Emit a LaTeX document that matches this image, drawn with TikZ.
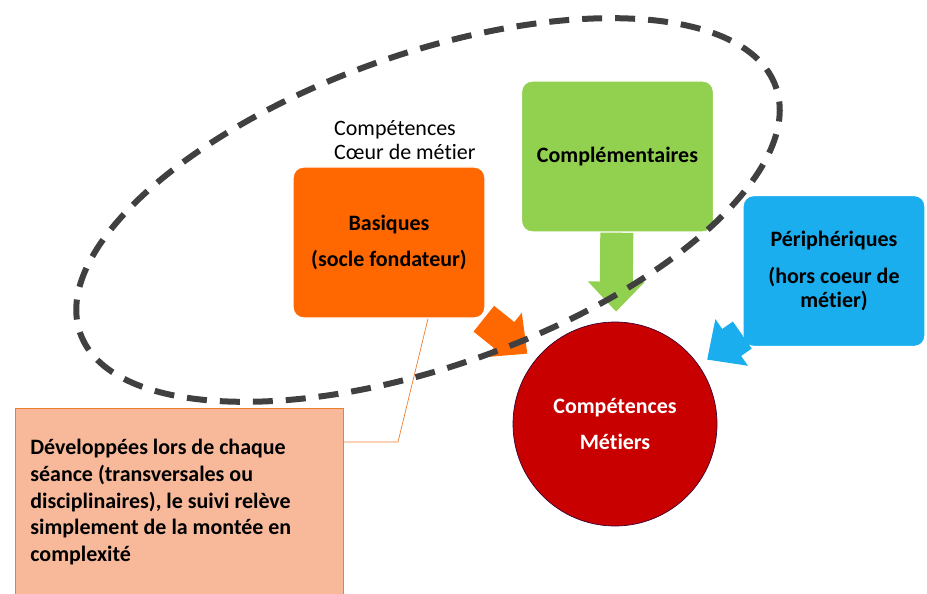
\documentclass[tikz,border=0pt]{standalone}
\usepackage{fontspec}
\setmainfont{Carlito}[Ligatures = NoCommon]
\usetikzlibrary{arrows.meta}

\definecolor{basique}{RGB}{255,104,0}
\definecolor{complement}{RGB}{146,208,80}
\definecolor{peripherie}{RGB}{26,174,238}
\definecolor{metier}{RGB}{200,0,0}
\definecolor{notefill}{RGB}{248,185,155}
\definecolor{noteline}{RGB}{237,125,49}
\definecolor{contour}{RGB}{64,64,64}

\begin{document}
\begin{tikzpicture}[
	box/.style = {rounded corners = 6 pt, minimum width = 3.84 cm, minimum height = 3.02 cm, align = center, draw = white, thick, font = \bfseries\fontsize{12.5}{15}\selectfont},
	bloc/.style = {line width = 0.66 cm, -{Triangle[length=0.6cm, width=1.1cm]}, shorten > = 0.2 cm}
]

	% Frame

	\useasboundingbox (0, 0) rectangle (18.54, 11.86);

	% Boxes

	\node [box, fill = basique] (basiques) at (7.78, 7.01) {Basiques\\[6pt](socle fondateur)};
	\node [box, fill = complement] (complementaires) at (12.35, 8.73) {Complémentaires};
	\node [box, fill = peripherie, minimum width = 3.64 cm] (peripheriques) at (16.68, 6.44) {Périphériques\\[6pt](hors coeur de\\[-1pt]métier)};
	\node [anchor = west, align = left, font = \fontsize{12.5}{13.6}\selectfont] (coeur) at (6.56, 9.06) {Compétences\\Cœur de métier};

	% Target

	\node [circle, fill = metier, draw = metier!60!blue!50!black, minimum size = 4.08 cm, align = center, text = white, font = \bfseries\fontsize{12.5}{15}\selectfont] (metiers) at (12.30, 3.38) {Compétences\\[5pt]Métiers};

	% Arrows

	\draw [bloc, basique] (basiques) -- (metiers);
	\draw [bloc, complement] (complementaires) -- (metiers);
	\draw [bloc, peripherie] (peripheriques) -- (metiers);

	% Core skills

	\draw [contour, line width = 0.12 cm, dash pattern = on 0.4 cm off 0.26 cm, rotate around = {19.5:(8.56, 7.66)}] (8.56, 7.66) ellipse (7.38 and 3.12);

	% Note

	\node [anchor = north west, fill = notefill, draw = noteline, minimum width = 6.56 cm, minimum height = 3.75 cm, inner xsep = 0.3 cm, text width = 5.96 cm, align = flush left, font = \bfseries\fontsize{12.5}{15.3}\selectfont] (note) at (0.30, 3.70) {Développées lors de chaque\\séance (transversales ou\\disciplinaires), le suivi relève\\simplement de la montée en\\complexité};
	\coordinate (elbow) at (7.96, 3.02);
	\draw [noteline] (note.east |- elbow) -- (elbow) -- ([xshift = 0.78 cm] basiques.south);

\end{tikzpicture}
\end{document}
